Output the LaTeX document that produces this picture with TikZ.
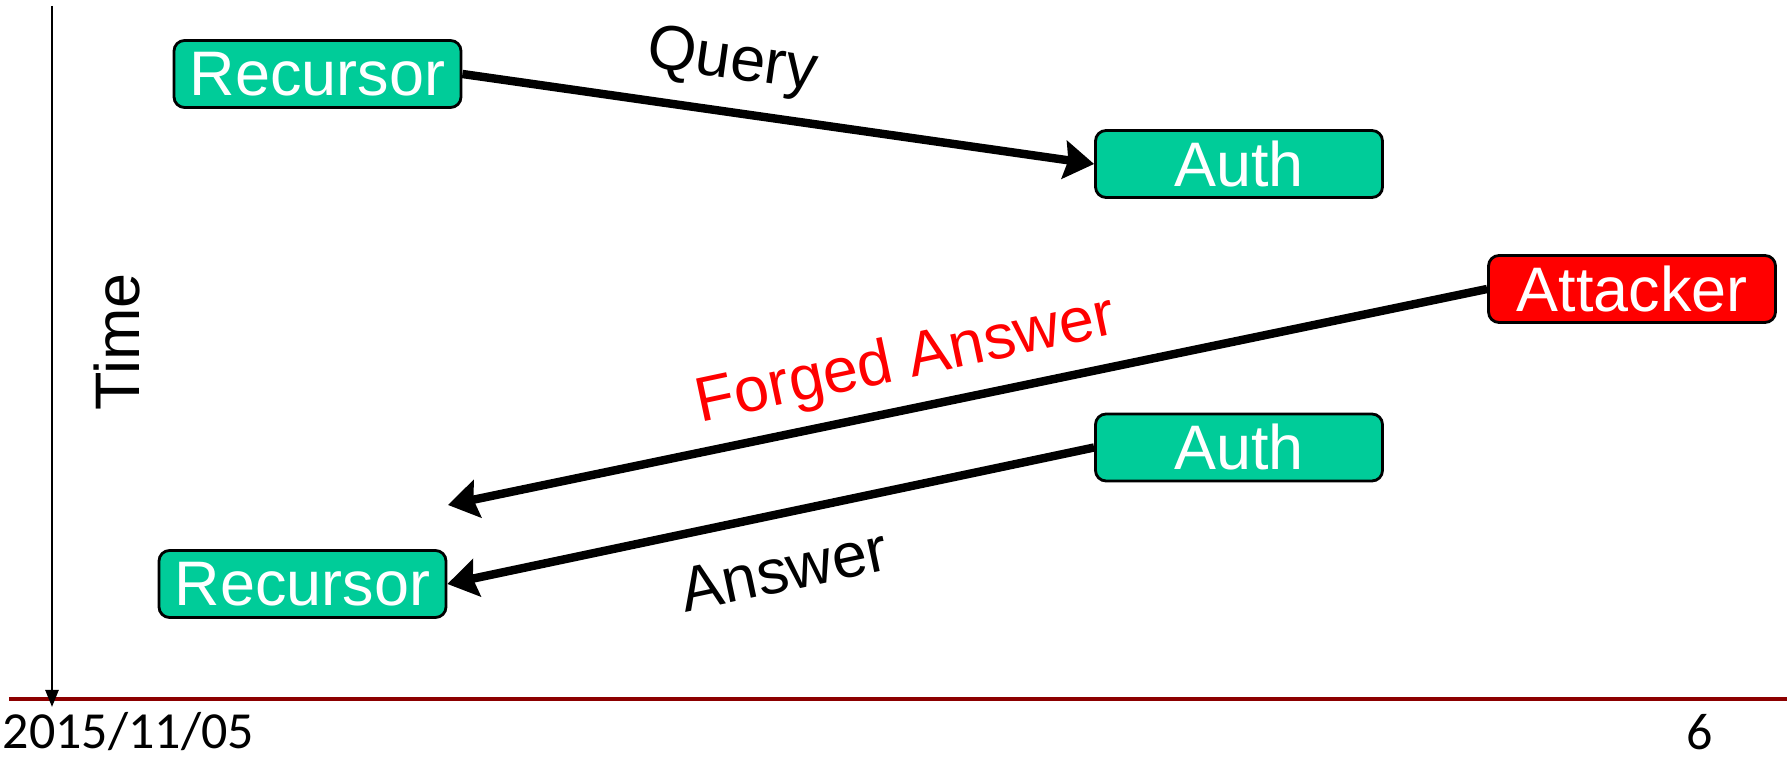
\documentclass[tikz,border=0pt]{standalone}
\usepackage{fontspec}
\setmainfont{Liberation Sans}
\newfontfamily\footfont{Carlito}
\usepackage{xcolor}
\usetikzlibrary{arrows.meta}

\definecolor{hostgreen}{RGB}{0,204,153}
\definecolor{footred}{RGB}{140,0,0}

\tikzset{
  host/.style={draw=black, line width=0.8pt, rounded corners=3pt, fill=hostgreen,
    text=white, minimum width=2.87cm, minimum height=0.67cm, inner sep=0pt,
    font=\fontsize{17.9}{20}\selectfont},
  msg/.style={line width=2.4pt, -{Stealth[length=0.3cm, width=0.38cm, inset=0.04cm]}},
  lbl/.style={font=\fontsize{17.9}{20}\selectfont, inner sep=0pt}
}

\begin{document}
\begin{tikzpicture}
  \useasboundingbox (0,0) rectangle (17.87,7.57);
  % footer rule, then the time axis over it
  \coordinate (rl) at (0.09,0.58);
  \coordinate (rr) at (17.87,0.58);
  \draw[footred, line width=0.9pt] (rl) -- (rr);
  \coordinate (ttop) at (0.52,7.51);
  \coordinate (tbot) at (0.52,0.50);
  \draw[line width=0.7pt, -{Triangle[length=0.17cm, width=0.13cm]}] (ttop) -- (tbot);
  \node[lbl, rotate=90] (time) at (1.17,4.15) {Time};
  \node[anchor=west, inner sep=0pt, font=\footfont\fontsize{14.8}{16}\selectfont] (date) at (0.02,0.25) {2015/11/05};
  \node[inner sep=0pt, font=\footfont\fontsize{14.8}{16}\selectfont] (page) at (17.0,0.25) {6};

  % hosts
  \node[host] (rec1) at (3.175,6.83) {Recursor};
  \node[host] (auth1) at (12.39,5.93) {Auth};
  \node[host, fill=red] (att) at (16.32,4.68) {Attacker};
  \node[host] (auth2) at (12.39,3.095) {Auth};
  \node[host] (rec2) at (3.025,1.73) {Recursor};
  \coordinate (fend) at (4.48,2.52);

  % messages
  \draw[msg] (rec1.east) -- (auth1.west);
  \draw[msg] (att.west) -- (fend);
  \draw[msg] (auth2.west) -- (rec2.east);
  \node[lbl, rotate=-8] (q) at (7.32,6.94) {Query};
  \node[lbl, rotate=12, text=red] (fa) at (9.06,3.95) {Forged Answer};
  \node[lbl, rotate=12] (a) at (7.84,1.87) {Answer};
\end{tikzpicture}
\end{document}
